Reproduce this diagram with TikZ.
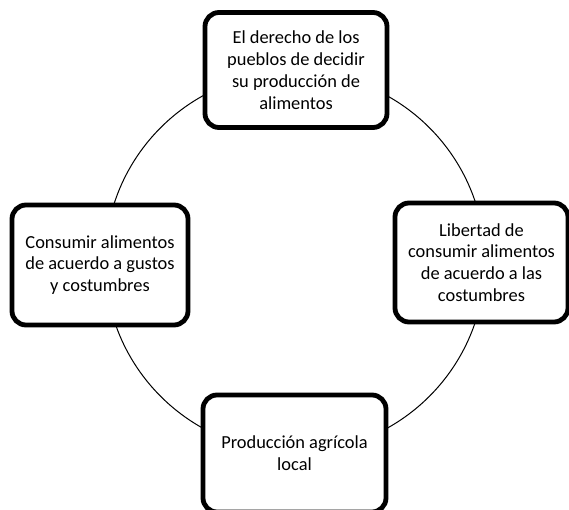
\documentclass[tikz,border=0pt]{standalone}
\usepackage{fontspec}
\setmainfont{Carlito}
\usepackage{tikz}
\usetikzlibrary{positioning}
\tikzset{
  cycle box/.style={
    draw,
    fill=white,
    line width=4.8pt,
    rounded corners=14pt,
    align=center,
    inner sep=0pt,
    font=\fontsize{18.4}{21.8}\selectfont
  }
}

\begin{document}
\begin{tikzpicture}[
      x=1pt, y=-1pt,
      ring/.style={draw, line width=1pt}
      ]
      \useasboundingbox (0,0) rectangle (569,510);

      \coordinate (centre) at (295,262);
      \draw[ring] (centre) circle (190pt);

      \node[cycle box, minimum width=182pt, minimum height=115pt] (derecho) at (296,70)
        {El derecho de los\\pueblos de decidir\\su producción de\\alimentos};
      \node[cycle box, minimum width=173pt, minimum height=119pt] (libertad) at (481.5,262.5)
        {Libertad de\\consumir alimentos\\de acuerdo a las\\costumbres};
      \node[cycle box, minimum width=183pt, minimum height=117pt] (produccion) at (294.5,453.5)
        {Producción agrícola\\local};
      \node[cycle box, minimum width=176pt, minimum height=120pt] (consumir) at (100,265)
        {Consumir alimentos\\de acuerdo a gustos\\y costumbres};
    \end{tikzpicture}
\end{document}
